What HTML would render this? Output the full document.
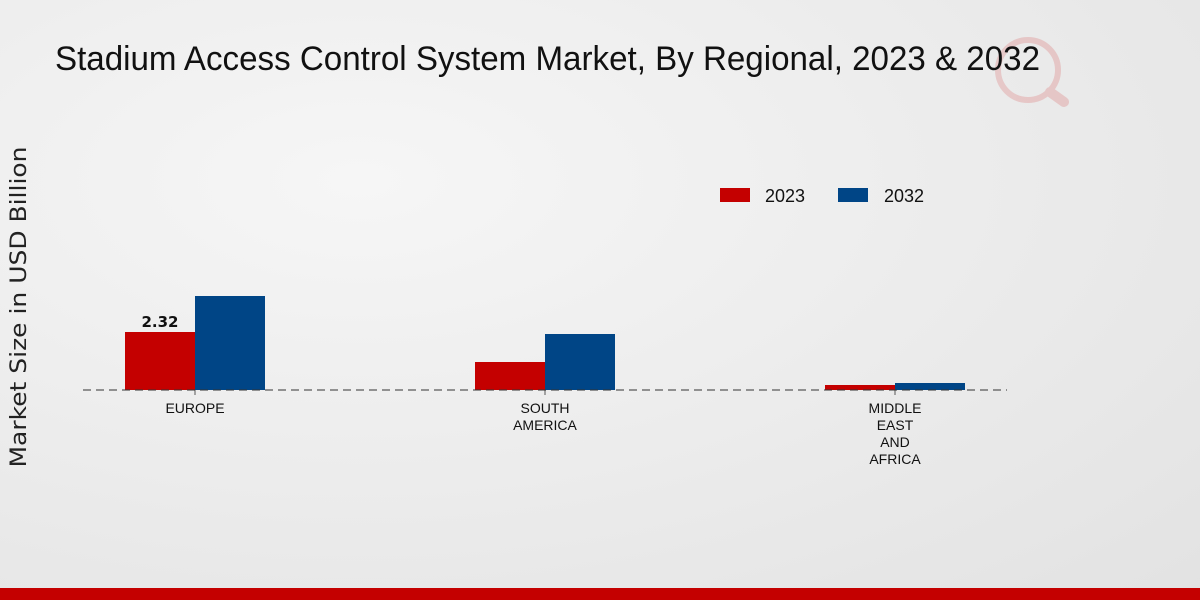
<!DOCTYPE html>
<html><head><meta charset="utf-8"><style>
body{margin:0;width:1200px;height:600px;overflow:hidden;font-family:"Liberation Sans",sans-serif}
</style></head><body>
<svg width="1200" height="600" xmlns="http://www.w3.org/2000/svg">
<defs><radialGradient id="bg" cx="0.3" cy="0.3" r="1"><stop offset="0" stop-color="#f6f6f6"/><stop offset="1" stop-color="#e2e2e2"/></radialGradient></defs>
<rect width="1200" height="600" fill="url(#bg)"/>
<g opacity="0.15">
<circle cx="1028" cy="70" r="30" fill="none" stroke="#c00" stroke-width="6"/>
<line x1="1050" y1="92" x2="1064" y2="102" stroke="#c00" stroke-width="10" stroke-linecap="round"/>
</g>
<text x="55" y="70" font-size="34" textLength="985" lengthAdjust="spacingAndGlyphs" fill="#111">Stadium Access Control System Market, By Regional, 2023 &amp; 2032</text>
<text transform="translate(26,307) rotate(-90)" font-size="22" textLength="321" lengthAdjust="spacingAndGlyphs" text-anchor="middle" fill="#222" font-family="DejaVu Sans, sans-serif">Market Size in USD Billion</text>
<g>
<rect x="720" y="188" width="30" height="14" fill="#c40000"/>
<text x="765" y="202" font-size="18" fill="#111">2023</text>
<rect x="838" y="188" width="30" height="14" fill="#004586"/>
<text x="884" y="202" font-size="18" fill="#111">2032</text>
</g>
<g id="plot"></g>
<rect x="0" y="588" width="1200" height="12" fill="#c40000"/>
</svg>
<script>
const categories=[["EUROPE"],["SOUTH","AMERICA"],["MIDDLE","EAST","AND","AFRICA"]];
const values2023=[2.32,1.12,0.2];
const values2032=[3.76,2.24,0.28];
const labels2023=["2.32",null,null];
const NS="http://www.w3.org/2000/svg";
const plot=document.getElementById('plot');
const base=390, scale=25, x0=195, step=350, bw=70;
const y=v=>base-v*scale;
const cx=i=>x0+i*step;
function mk(t,a){const e=document.createElementNS(NS,t);for(const k in a)e.setAttribute(k,a[k]);plot.appendChild(e);return e;}
categories.forEach((c,i)=>{
  let r=mk('rect',{x:cx(i)-bw,y:y(values2023[i]),width:bw,height:values2023[i]*scale,fill:'#c40000'});
  
  
  r=mk('rect',{x:cx(i),y:y(values2032[i]),width:bw,height:values2032[i]*scale,fill:'#004586'});
  
  
  if(labels2023[i]){
    const t=mk('text',{x:cx(i)-bw/2,y:y(values2023[i])-5,'font-size':15,'font-weight':'bold','text-anchor':'middle',fill:'#111','font-family':'DejaVu Sans, sans-serif'});
    t.textContent=labels2023[i];
    
    
  }
  c.forEach((s,j)=>{
    const t=mk('text',{x:cx(i),y:413+j*17,'font-size':14,'text-anchor':'middle',fill:'#111'});
    t.textContent=s;
    
    
  });
  const tk=mk('line',{x1:cx(i),x2:cx(i),y1:base,y2:base+5,stroke:'#555'});
  
  
});
const ax=mk('line',{x1:83,x2:1007,y1:base,y2:base,stroke:'#333','stroke-dasharray':'8,5'});


</script>
</body></html>
